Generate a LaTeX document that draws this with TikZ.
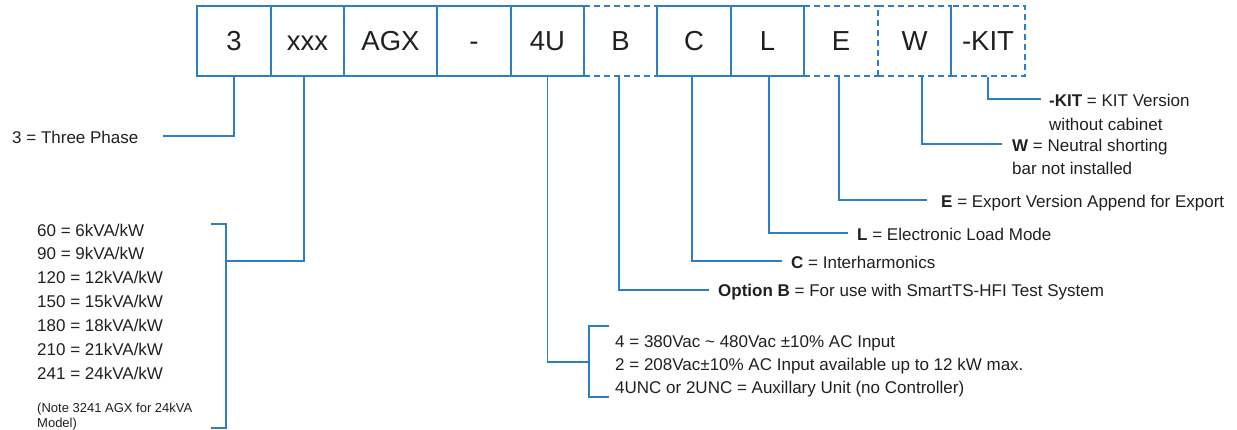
\documentclass[tikz,border=0pt]{standalone}
\usepackage{fontspec}
\setmainfont{Liberation Sans}
\definecolor{codeblue}{RGB}{46,126,194}
\definecolor{ink}{RGB}{35,31,32}
\begin{document}
\begin{tikzpicture}[x=1pt,y=-1pt,
  code/.style={rectangle, minimum height=70pt, inner sep=0pt, text=ink,
               text height=19.7pt, text depth=0pt,
               font=\fontsize{27.5}{30}\selectfont},
  solidbox/.style={code, draw=codeblue, line width=2pt},
  dashbox/.style={code, draw=codeblue, line width=2pt, dash pattern=on 6pt off 4pt},
  dashline/.style={draw=codeblue, line width=2pt, dash pattern=on 6pt off 4pt},
  conn/.style={draw=codeblue, line width=1.8pt},
  desc/.style={anchor=base west, inner sep=0pt, text=ink, font=\fontsize{17}{20}\selectfont},
  smallnote/.style={desc, font=\fontsize{13}{16}\selectfont}]
\useasboundingbox (0,0) rectangle (1237,429);

% ---- code boxes: optional (dashed) fields first, fixed fields on top
\node[code]     (bB)   at (620.5,41) [minimum width=73pt] {B};
\node[code]     (bE)   at (841,41)   [minimum width=74pt] {E};
\node[dashbox]  (bW)   at (914.5,41) [minimum width=73pt] {W};
\node[dashbox]  (bKIT) at (988,41)   [minimum width=74pt] {-KIT};
\draw[dashline] (bB.north west) -- (bB.north east) (bB.south west) -- (bB.south east);
\draw[dashline] (bE.north west) -- (bE.north east) (bE.south west) -- (bE.south east);

\node[solidbox] (b3)    at (234,41)   [minimum width=74pt] {3};
\node[solidbox] (bxxx)  at (307.5,41) [minimum width=73pt] {xxx};
\node[solidbox] (bagx)  at (390.5,41) [minimum width=93pt] {AGX};
\node[solidbox] (bdash) at (474,41)   [minimum width=74pt] {-};
\node[solidbox] (b4u)   at (547.5,41) [minimum width=73pt] {4U};
\node[solidbox] (bC)    at (694,41)   [minimum width=74pt] {C};
\node[solidbox] (bL)    at (767.5,41) [minimum width=73pt] {L};

% ---- descriptions
\node[desc] (t3) at (12,143) {3 = Three Phase};

\node[desc] (x1) at (37,236)   {60 = 6kVA/kW};
\node[desc] (x2) at (37,259.5) {90 = 9kVA/kW};
\node[desc] (x3) at (37,283)   {120 = 12kVA/kW};
\node[desc] (x4) at (37,307)   {150 = 15kVA/kW};
\node[desc] (x5) at (37,331)   {180 = 18kVA/kW};
\node[desc] (x6) at (37,355.5) {210 = 21kVA/kW};
\node[desc] (x7) at (37,379.5) {241 = 24kVA/kW};
\node[smallnote] (xn1) at (37,412) {(Note 3241 AGX for 24kVA};
\node[smallnote] (xn2) at (37,427) {Model)};

\node[desc] (u1) at (615,347) {4 = 380Vac \textasciitilde{} 480Vac ±10\% AC Input};
\node[desc] (u2) at (615,370) {2 = 208Vac±10\% AC Input available up to 12 kW max.};
\node[desc] (u3) at (615,393) {4UNC or 2UNC = Auxillary Unit (no Controller)};

\node[desc] (tB)  at (718,296) {\textbf{Option B} = For use with SmartTS-HFI Test System};
\node[desc] (tC)  at (791,268) {\textbf{C} = Interharmonics};
\node[desc] (tL)  at (857,240) {\textbf{L} = Electronic Load Mode};
\node[desc] (tE)  at (941,207) {\textbf{E} = Export Version Append for Export};
\node[desc] (tW1) at (1012,151) {\textbf{W} = Neutral shorting};
\node[desc] (tW2) at (1012,174) {bar not installed};
\node[desc] (tK1) at (1049,106) {\textbf{-KIT} = KIT Version};
\node[desc] (tK2) at (1049,130) {without cabinet};

% ---- leader ends and brackets
\coordinate (e3) at (163,136);
\coordinate (xtop) at (211,224);
\coordinate (xbot) at (211,428);
\coordinate (kx) at (226,261);
\coordinate (utop) at (609,326);
\coordinate (ubot) at (609,397);
\coordinate (ku) at (589,362);
\coordinate (eB) at (709,290);
\coordinate (eC) at (782,261);
\coordinate (eL) at (848,233);
\coordinate (eE) at (927,200);
\coordinate (eW) at (1002,144);
\coordinate (eK) at (1041,99);

\draw[conn] (xtop) -- ++(15,0) |- (xbot);
\draw[conn] (utop) -- ++(-20,0) |- (ubot);

% ---- leaders
\draw[conn] (b3.south) |- (e3);
\draw[conn] ([xshift=-3.5pt]bxxx.south) |- (kx);
\draw[conn] (b4u.south) |- (ku);
\draw[conn] ([xshift=-1.5pt]bB.south) |- (eB);
\draw[conn] ([xshift=-2pt]bC.south) |- (eC);
\draw[conn] ([xshift=1.5pt]bL.south) |- (eL);
\draw[conn] ([xshift=-2pt]bE.south) |- (eE);
\draw[conn] ([xshift=7.5pt]bW.south) |- (eW);
\draw[conn] (bKIT.south) |- (eK);
\end{tikzpicture}
\end{document}
